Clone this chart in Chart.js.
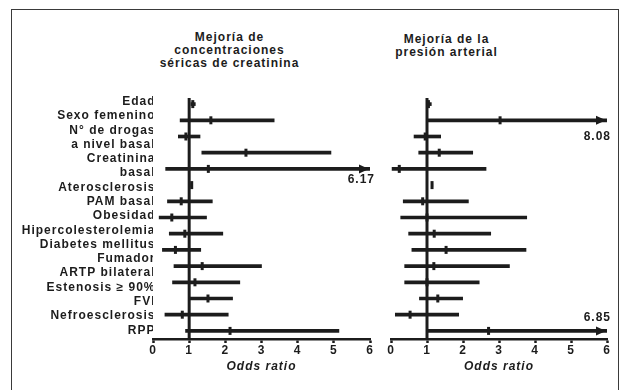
<!DOCTYPE html>
<html><head><meta charset="utf-8">
<script src="https://cdn.jsdelivr.net/npm/chart.js@4.4.1/dist/chart.umd.min.js"></script>
<style>
html,body{margin:0;padding:0;background:#fff;width:626px;height:390px;overflow:hidden;}
#frame{position:absolute;left:10.5px;top:8.5px;width:606px;height:400px;border:1.5px solid #3a3a3a;border-bottom:none;}
.title{position:absolute;font:bold 12px 'Liberation Sans',Arial,sans-serif;letter-spacing:1px;color:#1c1c1c;text-align:center;line-height:13.3px;white-space:nowrap;transform:translateX(-50%);}
canvas{position:absolute;top:0;}
</style></head><body>
<div id="frame"></div>
<div class="title" style="left:229.5px;top:30.5px">Mejoría de<br>concentraciones<br>séricas de creatinina</div>
<div class="title" style="left:446.5px;top:33px">Mejoría de la<br>presión arterial</div>
<canvas id="c1" width="380" height="390" style="left:0"></canvas>
<canvas id="c2" width="246" height="390" style="left:380px"></canvas>
<script>
// ---- data ----
const categories = ["Edad", "Sexo femenino", ["N° de drogas", "a nivel basal"], ["Creatinina", "basal"],
  "Aterosclerosis", "PAM basal", "Obesidad", "Hipercolesterolemia", "Diabetes mellitus", "Fumador",
  "ARTP bilateral", "Estenosis ≥ 90%", "FVI", "Nefroesclerosis", "RPP"];

// Mejoría de concentraciones séricas de creatinina
const creatOR   = [1.10, 1.60, 0.91, 2.57, 1.53, 1.07, 0.78, 0.52, 0.88, 0.62, 1.36, 1.16, 1.52, 0.81, 2.13];
const creatLow  = [1.05, 0.75, 0.70, 1.35, 0.35, 1.05, 0.40, 0.17, 0.45, 0.26, 0.58, 0.54, 1.02, 0.33, 0.90];
const creatHigh = [1.17, 3.35, 1.30, 4.92, 6.17, 1.09, 1.64, 1.48, 1.93, 1.32, 3.00, 2.40, 2.20, 2.08, 5.14];

// Mejoría de la presión arterial
const presOR   = [1.04, 3.03, 0.95, 1.34, 0.23, 1.14, 0.88, 1.00, 1.20, 1.53, 1.19, 1.00, 1.30, 0.53, 2.71];
const presLow  = [1.02, 1.00, 0.64, 0.77, 0.03, 1.12, 0.34, 0.27, 0.49, 0.58, 0.38, 0.38, 0.79, 0.12, 1.00];
const presHigh = [1.12, 8.08, 1.38, 2.27, 2.64, 1.16, 2.15, 3.77, 2.77, 3.75, 3.29, 2.45, 1.99, 1.88, 6.85];

const xTicks = [0, 1, 2, 3, 4, 5, 6];
const refValue = 1;
const axisTitle = "Odds ratio";

// ---- drawing ----
const INK = '#1c1c1c';
const FAMILY = "'Liberation Sans', Arial, Helvetica, sans-serif";
Chart.defaults.font.family = FAMILY;
Chart.defaults.font.size = 12;
Chart.defaults.font.weight = 'bold';
Chart.defaults.color = INK;

const labelLines = categories.flat();

const forestPlugin = {
  id: 'forest',
  beforeDraw(chart) { chart.ctx.letterSpacing = '1px'; },
  beforeDatasetsDraw(chart) {
    const {ctx, chartArea} = chart;
    const x = chart.scales.x.getPixelForValue(refValue);
    ctx.save();
    ctx.strokeStyle = INK; ctx.lineWidth = 3;
    ctx.beginPath();
    ctx.moveTo(x, chartArea.top + 2);
    ctx.lineTo(x, chartArea.bottom);
    ctx.stroke();
    ctx.restore();
  },
  afterDatasetsDraw(chart, args, opts) {
    const {ctx} = chart;
    const xs = chart.scales.x, ys = chart.scales.y;
    const ranges = chart.data.datasets[0].data;
    ctx.save();
    ctx.fillStyle = INK;
    ranges.forEach((r, i) => {
      if (r[1] <= xs.max) return;
      const tip = xs.getPixelForValue(xs.max) - 1;
      const y = ys.getPixelForValue(i);
      ctx.beginPath();
      ctx.moveTo(tip, y);
      ctx.lineTo(tip - 10, y - 4.5);
      ctx.lineTo(tip - 10, y + 4.5);
      ctx.closePath();
      ctx.fill();
      ctx.font = 'bold 12px ' + FAMILY;
      ctx.letterSpacing = '1px';
      ctx.textAlign = 'right';
      ctx.textBaseline = 'middle';
      const dy = (opts.textDy && opts.textDy[i] !== undefined) ? opts.textDy[i] : 12;
      ctx.fillText(r[1].toFixed(2), tip + opts.textDx, y + dy);
    });
    ctx.restore();
  }
};

function makePanel(id, orVals, lowVals, highVals, cfg) {
  const scales = {
    x: {
      type: 'linear', position: 'bottom', min: 0, max: 6,
      afterBuildTicks: s => { s.ticks = xTicks.map(v => ({value: v})); },
      ticks: {padding: 0, color: INK, font: {size: 12, weight: 'bold'}},
      grid: {display: true, drawOnChartArea: false, drawTicks: true, tickLength: 4, tickWidth: 2.5, color: INK},
      border: {display: true, color: INK, width: 2.5},
      title: {display: true, text: axisTitle, color: INK,
              font: {size: 12, weight: 'bold', style: 'italic'}, padding: {top: 0, bottom: 16}},
      afterFit: s => { s.height = 51; }
    },
    y: {
      type: 'category', axis: 'y', position: 'left', offset: true, display: false
    }
  };
  if (cfg.showLabels) {
    scales.yl = {
      type: 'category', axis: 'y', position: 'left', labels: labelLines, offset: true,
      grid: {display: false, drawTicks: false}, border: {display: false},
      ticks: {autoSkip: false, padding: -2.5, labelOffset: -1.5, color: INK, font: {size: 12, weight: 'bold'}},
      afterFit: s => { s.width = cfg.labelWidth; }
    };
  }
  return new Chart(document.getElementById(id), {
    type: 'bar',
    data: {
      labels: categories,
      datasets: [
        {type: 'bar', data: lowVals.map((l, i) => [l, highVals[i]]), backgroundColor: INK,
         borderWidth: 0, barThickness: 3, xAxisID: 'x', yAxisID: 'y', order: 2},
        {type: 'line', data: orVals, showLine: false, pointStyle: 'line', pointRotation: 90,
         pointRadius: 4, pointBorderWidth: 3, pointBorderColor: INK, pointBackgroundColor: INK,
         xAxisID: 'x', yAxisID: 'y', order: 1}
      ]
    },
    options: {
      indexAxis: 'y', responsive: false, animation: false, devicePixelRatio: 1,
      layout: {padding: cfg.padding},
      plugins: {legend: {display: false}, tooltip: {enabled: false},
                forest: {textDx: cfg.textDx, textDy: cfg.textDy}},
      scales
    },
    plugins: [forestPlugin]
  });
}

makePanel('c1', creatOR, creatLow, creatHigh, {
  showLabels: true, labelWidth: 153,
  padding: {top: 96, left: 0, right: 10, bottom: 0},
  textDx: 6, textDy: {4: 11}
});
makePanel('c2', presOR, presLow, presHigh, {
  showLabels: false,
  padding: {top: 96, left: 11, right: 19, bottom: 0},
  textDx: 5, textDy: {1: 16, 14: -13}
});
</script>
</body></html>
